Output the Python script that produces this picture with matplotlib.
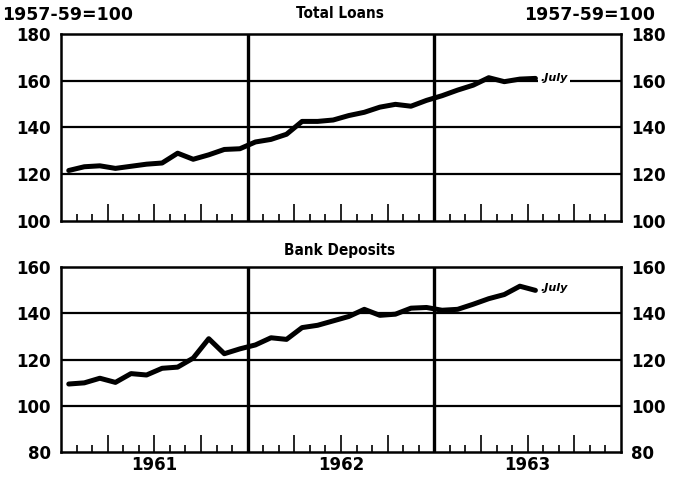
import matplotlib
matplotlib.use("Agg")
import matplotlib.pyplot as plt
import matplotlib.transforms as mtransforms
import numpy as np

# Monthly data, Jan 1961 .. Jul 1963 (index 1957-59 = 100)
loans = [121.6, 123.2, 123.6, 122.5, 123.4, 124.3, 124.8, 129.0, 126.4, 128.3, 130.6, 130.9,
         133.8, 134.9, 137.1, 142.6, 142.6, 143.2, 145.1, 146.5, 148.7, 149.9, 149.1, 151.6,
         153.6, 156.0, 158.1, 161.3, 159.6, 160.7, 161.0]
deposits = [109.4, 109.9, 111.9, 110.1, 113.9, 113.3, 116.2, 116.7, 120.6, 129.0, 122.5, 124.6,
            126.3, 129.4, 128.7, 133.8, 134.8, 136.7, 138.6, 141.7, 139.1, 139.6, 142.2, 142.5,
            141.3, 141.7, 143.9, 146.3, 148.1, 151.7, 149.9]
years = ["1961", "1962", "1963"]
titles = ["Total Loans", "Bank Deposits"]
unit_label = "1957-59=100"
end_label = "July"

months = np.arange(len(loans)) + 0.5

fig = plt.figure(figsize=(6.76, 4.78), dpi=100)
fig.patch.set_facecolor("white")

FONT = "DejaVu Sans"
NUMSIZE = 12
NUMWEIGHT = "bold"

def setup(ax, ylim, yticks):
    ax.set_xlim(0, 36)
    ax.set_ylim(*ylim)
    for s in ax.spines.values():
        s.set_linewidth(1.8)
    ax.set_yticks(yticks)
    ax.tick_params(axis="y", left=False, right=False, labelleft=True, labelright=True,
                   labelsize=NUMSIZE, pad=4)
    for lab in ax.get_yticklabels():
        lab.set_fontweight(NUMWEIGHT)
    for v in yticks[1:-1]:
        ax.axhline(v, color="black", lw=1.6, zorder=1)
    for x in (12, 24):
        ax.axvline(x, color="black", lw=2.4, zorder=1)
    major = [m for m in range(1, 36) if m % 3 == 0 and m % 12 != 0]
    minor = [m for m in range(1, 36) if m % 3 != 0]
    ax.set_xticks(major)
    ax.set_xticks(minor, minor=True)
    ax.tick_params(axis="x", which="major", direction="in", length=12, width=1.2,
                   labelbottom=False, top=False)
    ax.tick_params(axis="x", which="minor", direction="in", length=5, width=1.2,
                   labelbottom=False, top=False)

ax1 = fig.add_axes([0.0902, 0.5377, 0.8284, 0.3912])
setup(ax1, (100, 180), [100, 120, 140, 160, 180])
ax1.plot(months, loans, color="black", lw=3.6, solid_capstyle="round",
         solid_joinstyle="round", zorder=3)
ax1.text(months[-1] + 0.3, loans[-1], "." + end_label, fontsize=8, style="italic",
         fontweight="bold", va="center", ha="left", family=FONT,
         bbox=dict(facecolor="white", edgecolor="none", pad=1.5), zorder=4)

ax2 = fig.add_axes([0.0902, 0.0544, 0.8284, 0.387])
setup(ax2, (80, 160), [80, 100, 120, 140, 160])
ax2.plot(months, deposits, color="black", lw=3.6, solid_capstyle="round",
         solid_joinstyle="round", zorder=3)
ax2.text(months[-1] + 0.3, deposits[-1] + 1, "." + end_label, fontsize=8, style="italic",
         fontweight="bold", va="center", ha="left", family=FONT, zorder=4)

trans = mtransforms.blended_transform_factory(ax2.transData, fig.transFigure)
for i, y in enumerate(years):
    ax2.text(6 + 12 * i, 1 - 465 / 478, y, transform=trans, ha="center", va="center",
             fontsize=NUMSIZE, fontweight=NUMWEIGHT)

fig.text(340 / 676, 1 - 13 / 478, titles[0], ha="center", va="center", fontsize=11,
         fontweight="bold", fontstretch="condensed")
fig.text(340 / 676, 1 - 251 / 478, titles[1], ha="center", va="center", fontsize=11,
         fontweight="bold", fontstretch="condensed")
fig.text(2 / 676, 1 - 15 / 478, unit_label, ha="left", va="center", fontsize=12.5,
         fontweight=NUMWEIGHT)
fig.text(655 / 676, 1 - 15 / 478, unit_label, ha="right", va="center", fontsize=12.5,
         fontweight=NUMWEIGHT)

fig.savefig("out.png", dpi=100, facecolor="white")
